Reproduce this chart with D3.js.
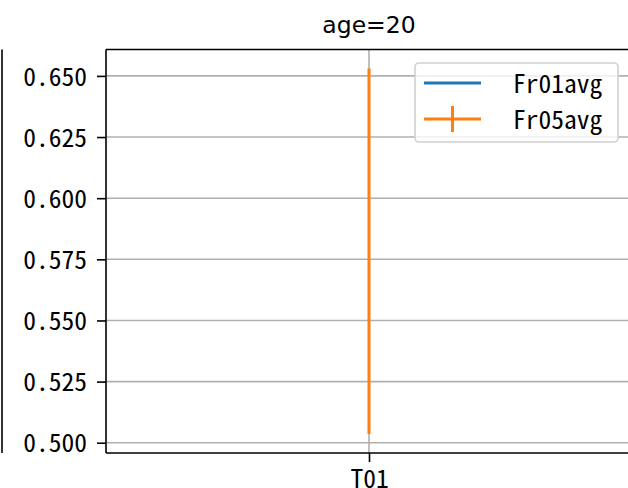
<!DOCTYPE html>
<html><head><meta charset="utf-8">
<script src="https://cdn.jsdelivr.net/npm/d3@7"></script>
<style>body{margin:0;background:#fff;}svg{display:block;}</style>
</head><body>
<script>
const categories = ["T01"];
const fr01avg = [0.578];
const fr05avg = [0.578];
const fr05low = [0.5036];
const fr05high = [0.653];
const yTicks = [0.500, 0.525, 0.550, 0.575, 0.600, 0.625, 0.650];
const title = "age=20";
const seriesNames = ["Fr01avg", "Fr05avg"];
const colors = ["#1f77b4", "#ff7f0e"];

const W = 628, H = 488;
const pLeft = 106, pTop = 49.5, pBottom = 453, pRight = 632;
const monoFont = "'Noto Sans Mono CJK SC','DejaVu Sans Mono',monospace";
const fs = 25.5;

const svg = d3.select("body").append("svg").attr("width", W).attr("height", H);

const x = d3.scalePoint().domain(categories).range([pLeft, pRight]).padding(0.5);
const y = d3.scaleLinear().domain([0.4958, 0.6608]).range([pBottom, pTop]);

svg.append("line").attr("x1", 2).attr("x2", 2).attr("y1", pTop).attr("y2", pBottom)
  .attr("stroke", "#000").attr("stroke-width", 1.6);

const g = svg.append("g");
g.selectAll("line.hg").data(yTicks).join("line")
  .attr("x1", pLeft).attr("x2", pRight).attr("y1", d => y(d)).attr("y2", d => y(d))
  .attr("stroke", "#b0b0b0").attr("stroke-width", 1.6);
g.selectAll("line.vg").data(categories).join("line")
  .attr("x1", d => x(d)).attr("x2", d => x(d)).attr("y1", pTop).attr("y2", pBottom)
  .attr("stroke", "#b0b0b0").attr("stroke-width", 1.6);

const line = d3.line().x((d, i) => x(categories[i])).y(d => y(d));
svg.append("path").datum(fr01avg).attr("d", line).attr("fill", "none")
  .attr("stroke", colors[0]).attr("stroke-width", 3);
svg.append("path").datum(fr05avg).attr("d", line).attr("fill", "none")
  .attr("stroke", colors[1]).attr("stroke-width", 3);
svg.selectAll("line.err").data(categories).join("line")
  .attr("x1", d => x(d)).attr("x2", d => x(d))
  .attr("y1", (d, i) => y(fr05low[i])).attr("y2", (d, i) => y(fr05high[i]))
  .attr("stroke", colors[1]).attr("stroke-width", 3);

const yAxis = d3.axisLeft(y).tickValues(yTicks).tickSize(9).tickPadding(10)
  .tickFormat(d => d3.format(".3f")(d));
const ya = svg.append("g").attr("transform", `translate(${pLeft},0)`).call(yAxis);
const xAxis = d3.axisBottom(x).tickSize(9).tickPadding(8);
const xa = svg.append("g").attr("transform", `translate(0,${pBottom})`).call(xAxis);
[ya, xa].forEach(a => {
  a.select(".domain").remove();
  a.selectAll(".tick line").attr("stroke", "#000").attr("stroke-width", 1.6);
  a.selectAll("text").attr("font-family", monoFont).attr("font-size", fs).attr("fill", "#000");
});
ya.selectAll("text").attr("dy", "0.36em");
svg.append("line").attr("x1", pLeft).attr("x2", pLeft).attr("y1", pTop).attr("y2", pBottom).attr("stroke", "#000").attr("stroke-width", 1.6);
svg.append("line").attr("x1", pLeft).attr("x2", pRight).attr("y1", pTop).attr("y2", pTop).attr("stroke", "#000").attr("stroke-width", 1.6);
svg.append("line").attr("x1", pLeft).attr("x2", pRight).attr("y1", pBottom).attr("y2", pBottom).attr("stroke", "#000").attr("stroke-width", 1.6);

svg.append("text").attr("x", x(categories[0])).attr("y", 33).attr("text-anchor", "middle")
  .attr("font-family", "DejaVu Sans").attr("font-size", 23.5).text(title);

const lg = svg.append("g");
lg.append("rect").attr("x", 415).attr("y", 63).attr("width", 203).attr("height", 79)
  .attr("rx", 4).attr("fill", "rgba(255,255,255,0.8)").attr("stroke", "#d0d0d0").attr("stroke-width", 1.6);
seriesNames.forEach((name, i) => {
  const yy = 83 + i * 36;
  lg.append("line").attr("x1", 424).attr("x2", 481).attr("y1", yy).attr("y2", yy)
    .attr("stroke", colors[i]).attr("stroke-width", 3);
  if (i === 1) {
    lg.append("line").attr("x1", 452.5).attr("x2", 452.5).attr("y1", yy - 13).attr("y2", yy + 13)
      .attr("stroke", colors[i]).attr("stroke-width", 3);
  }
  lg.append("text").attr("x", 513).attr("y", yy + 1).attr("dy", "0.36em")
    .attr("font-family", monoFont).attr("font-size", fs).text(name);
});
</script>
</body></html>
